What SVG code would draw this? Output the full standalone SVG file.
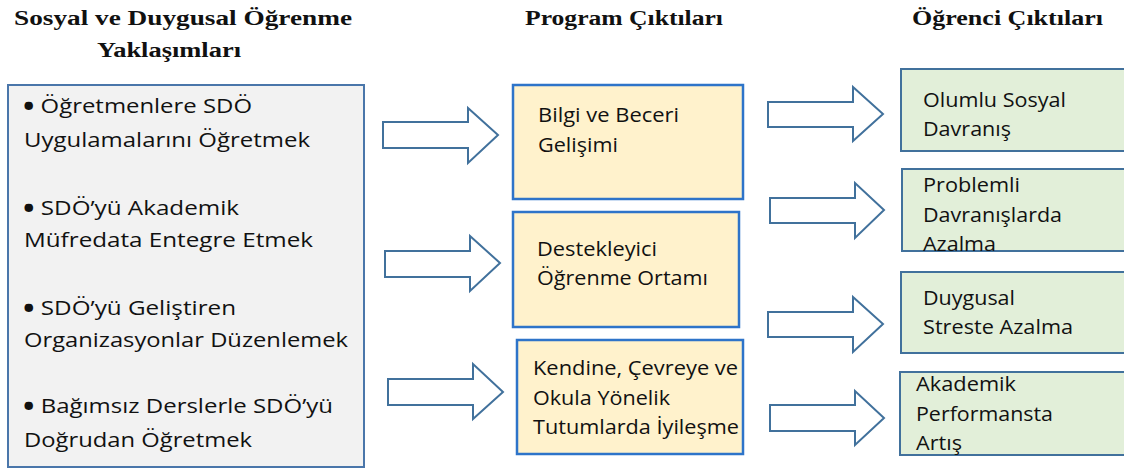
<svg xmlns="http://www.w3.org/2000/svg" width="1124" height="473" viewBox="0 0 1124 473">
<style>
.hdr{font-family:"Liberation Serif","DejaVu Serif",serif;font-weight:bold;font-size:20px;fill:#111}
.t{font-family:"Open Sans","Noto Sans","Liberation Sans",sans-serif;font-size:20.5px;fill:#111}
.b{font-size:26px;font-weight:bold}
.left{fill:#f2f2f2;stroke:#4a76aa;stroke-width:2}
.mid{fill:#fff2cc;stroke:#2e74c9;stroke-width:2.5}
.right{fill:#e2efd9;stroke:#41719c;stroke-width:2}
.arr{fill:#fff;stroke:#41719c;stroke-width:2;stroke-linejoin:miter}
</style>
<rect width="1124" height="473" fill="#fff"/>
<g id="headers">
<text class="hdr" x="14" y="25" textLength="338" lengthAdjust="spacingAndGlyphs">Sosyal ve Duygusal Öğrenme</text>
<text class="hdr" x="97" y="57" textLength="144" lengthAdjust="spacingAndGlyphs">Yaklaşımları</text>
<text class="hdr" x="525" y="25" textLength="198" lengthAdjust="spacingAndGlyphs">Program Çıktıları</text>
<text class="hdr" x="912" y="25" textLength="191" lengthAdjust="spacingAndGlyphs">Öğrenci Çıktıları</text>
</g>
<g id="approaches">
<rect class="left" x="8" y="85" width="356" height="382"/>
<text class="t" x="23" y="113" textLength="229" lengthAdjust="spacingAndGlyphs"><tspan class="b" dy="2.5">•</tspan><tspan dy="-2.5"> Öğretmenlere SDÖ</tspan></text>
<text class="t" x="24" y="147" textLength="286" lengthAdjust="spacingAndGlyphs">Uygulamalarını Öğretmek</text>
<text class="t" x="23" y="215" textLength="216" lengthAdjust="spacingAndGlyphs"><tspan class="b" dy="2.5">•</tspan><tspan dy="-2.5"> SDÖ’yü Akademik</tspan></text>
<text class="t" x="24" y="247" textLength="289" lengthAdjust="spacingAndGlyphs">Müfredata Entegre Etmek</text>
<text class="t" x="23" y="315" textLength="213" lengthAdjust="spacingAndGlyphs"><tspan class="b" dy="2.5">•</tspan><tspan dy="-2.5"> SDÖ’yü Geliştiren</tspan></text>
<text class="t" x="24" y="347" textLength="324" lengthAdjust="spacingAndGlyphs">Organizasyonlar Düzenlemek</text>
<text class="t" x="23" y="413" textLength="310" lengthAdjust="spacingAndGlyphs"><tspan class="b" dy="2.5">•</tspan><tspan dy="-2.5"> Bağımsız Derslerle SDÖ’yü</tspan></text>
<text class="t" x="24" y="447" textLength="228" lengthAdjust="spacingAndGlyphs">Doğrudan Öğretmek</text>
</g>
<g id="connectors">
<path class="arr" d="M383,122 H468 V108 L498,135 L468,163 V148 H383 Z"/>
<path class="arr" d="M385,251 H470 V236 L500,263 L470,291 V277 H385 Z"/>
<path class="arr" d="M388,379 H473 V364 L503,392 L473,419 V405 H388 Z"/>
<path class="arr" d="M768,102 H853 V87 L883,114 L853,141 V127 H768 Z"/>
<path class="arr" d="M770,198 H855 V183 L884,210 L855,238 V223 H770 Z"/>
<path class="arr" d="M768,312 H853 V297 L883,324 L853,352 V337 H768 Z"/>
<path class="arr" d="M770,405 H855 V391 L884,418 L855,445 V431 H770 Z"/>
</g>
<g id="prog1">
<rect class="mid" x="513" y="85" width="230" height="114"/>
<text class="t" x="538" y="122" textLength="141" lengthAdjust="spacingAndGlyphs">Bilgi ve Beceri</text>
<text class="t" x="538" y="152" textLength="80" lengthAdjust="spacingAndGlyphs">Gelişimi</text>
</g>
<g id="prog2">
<rect class="mid" x="513" y="212" width="226" height="115"/>
<text class="t" x="537" y="256" textLength="120" lengthAdjust="spacingAndGlyphs">Destekleyici</text>
<text class="t" x="537" y="285" textLength="171" lengthAdjust="spacingAndGlyphs">Öğrenme Ortamı</text>
</g>
<g id="prog3">
<rect class="mid" x="517" y="340" width="226" height="114"/>
<text class="t" x="533" y="375" textLength="205" lengthAdjust="spacingAndGlyphs">Kendine, Çevreye ve</text>
<text class="t" x="533" y="405" textLength="137" lengthAdjust="spacingAndGlyphs">Okula Yönelik</text>
<text class="t" x="533" y="434" textLength="206" lengthAdjust="spacingAndGlyphs">Tutumlarda İyileşme</text>
</g>
<g id="out1">
<rect class="right" x="901" y="69" width="240" height="82"/>
<text class="t" x="923" y="107" textLength="143" lengthAdjust="spacingAndGlyphs">Olumlu Sosyal</text>
<text class="t" x="923" y="136" textLength="88" lengthAdjust="spacingAndGlyphs">Davranış</text>
</g>
<g id="out2">
<rect class="right" x="902" y="169" width="240" height="82"/>
<text class="t" x="923" y="192" textLength="97" lengthAdjust="spacingAndGlyphs">Problemli</text>
<text class="t" x="923" y="222" textLength="139" lengthAdjust="spacingAndGlyphs">Davranışlarda</text>
<text class="t" x="923" y="251" textLength="73" lengthAdjust="spacingAndGlyphs">Azalma</text>
</g>
<g id="out3">
<rect class="right" x="901" y="272" width="240" height="81"/>
<text class="t" x="923" y="305" textLength="92" lengthAdjust="spacingAndGlyphs">Duygusal</text>
<text class="t" x="923" y="334" textLength="150" lengthAdjust="spacingAndGlyphs">Streste Azalma</text>
</g>
<g id="out4">
<rect class="right" x="900" y="372" width="240" height="83"/>
<text class="t" x="916" y="391" textLength="100" lengthAdjust="spacingAndGlyphs">Akademik</text>
<text class="t" x="916" y="421" textLength="137" lengthAdjust="spacingAndGlyphs">Performansta</text>
<text class="t" x="916" y="450" textLength="46" lengthAdjust="spacingAndGlyphs">Artış</text>
</g>
</svg>
